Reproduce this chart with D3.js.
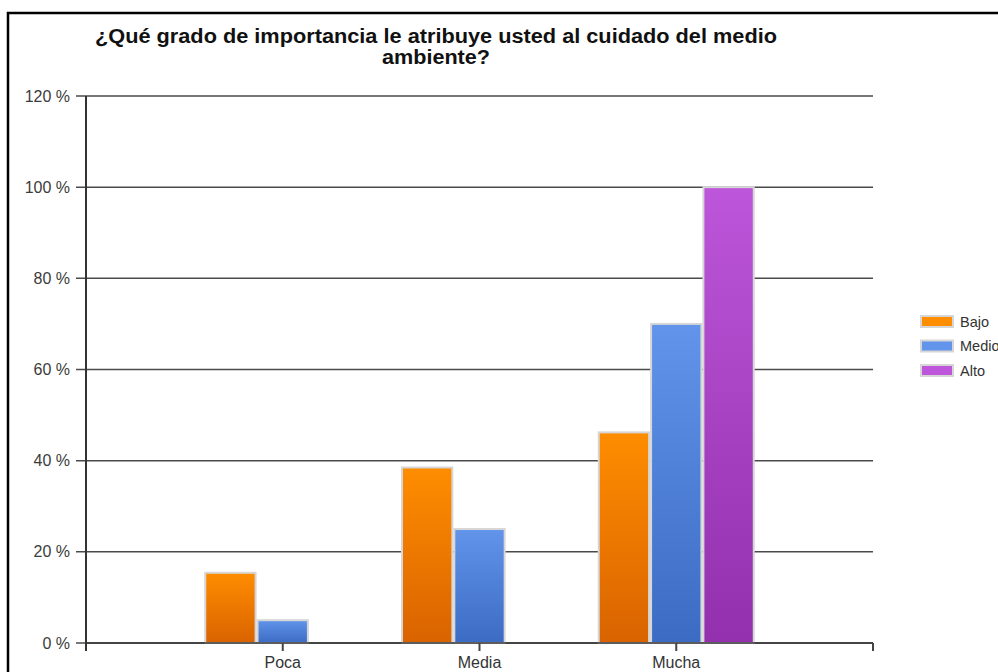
<!DOCTYPE html>
<html>
<head>
<meta charset="utf-8">
<script src="https://cdn.jsdelivr.net/npm/d3@7/dist/d3.min.js"></script>
<style>
  html, body { margin: 0; padding: 0; background: #fff; }
  svg { display: block; }
  text { font-family: "Liberation Sans", Arial, sans-serif; }
</style>
</head>
<body>
<svg id="chart" width="998" height="672"></svg>
<script>
// Encuesta: importancia atribuida al cuidado del medio ambiente
const categories = ["Poca", "Media", "Mucha"];
const seriesNames = ["Bajo", "Medio", "Alto"];
const bajo  = [15.4, 38.5, 46.2];
const medio = [5, 25, 70];
const alto  = [0, 0, 100];
const yTicks = [0, 20, 40, 60, 80, 100, 120];
const titleLines = ["¿Qué grado de importancia le atribuye usted al cuidado del medio", "ambiente?"];

const seriesValues = [bajo, medio, alto];
const colors = {
  Bajo:  ["#ff8d00", "#d96300"],
  Medio: ["#6194ea", "#3c6bc3"],
  Alto:  ["#bd56da", "#9230ad"]
};

const svg = d3.select("#chart");
const plotLeft = 86, plotRight = 873, plotTop = 96, plotBottom = 643;

// Frame around the chart
svg.append("rect").attr("x", 8).attr("y", 13).attr("width", 1100).attr("height", 800)
  .attr("fill", "none").attr("stroke", "#000").attr("stroke-width", 2.5);

// Gradients for bars
const defs = svg.append("defs");
seriesNames.forEach(name => {
  const g = defs.append("linearGradient").attr("id", "grad-" + name)
    .attr("x1", 0).attr("y1", 0).attr("x2", 0).attr("y2", 1);
  g.append("stop").attr("offset", "0%").attr("stop-color", colors[name][0]);
  g.append("stop").attr("offset", "100%").attr("stop-color", colors[name][1]);
});

// Scales
const x = d3.scalePoint().domain(["", ...categories, " "]).range([plotLeft, plotRight]);
const y = d3.scaleLinear().domain([0, 120]).range([plotBottom, plotTop]);
const groupW = 157;
const x1 = d3.scaleBand().domain(seriesNames).range([-groupW / 2, groupW / 2]);

// Title (two lines, narrow bold)
const title = svg.append("text").attr("text-anchor", "middle").attr("font-weight", "bold")
  .attr("font-size", 20).attr("fill", "#111");
title.append("tspan").attr("x", 436).attr("y", 43).text(titleLines[0])
  .attr("textLength", 682).attr("lengthAdjust", "spacingAndGlyphs");
title.append("tspan").attr("x", 436).attr("y", 64).text(titleLines[1])
  .attr("textLength", 108).attr("lengthAdjust", "spacingAndGlyphs");

// Horizontal gridlines with tick marks
svg.append("g").selectAll("line").data(yTicks).join("line")
  .attr("x1", plotLeft - 10).attr("x2", plotRight)
  .attr("y1", d => y(d)).attr("y2", d => y(d))
  .attr("stroke", "#4a4a4a").attr("stroke-width", 1.5);

// Y axis labels
svg.append("g").selectAll("text").data(yTicks).join("text")
  .attr("x", 70).attr("y", d => y(d) + 5.5)
  .attr("text-anchor", "end").attr("font-size", 16).attr("fill", "#3c3c3c")
  .text(d => d + " %");

// Bars
const bars = [];
categories.forEach((c, i) => {
  seriesNames.forEach((s, j) => {
    const v = seriesValues[j][i];
    if (v > 0) bars.push({ c, s, v });
  });
});
svg.append("g").selectAll("rect").data(bars).join("rect")
  .attr("x", d => x(d.c) + x1(d.s) + 1)
  .attr("width", x1.bandwidth() - 2)
  .attr("y", d => y(d.v))
  .attr("height", d => y(0) - y(d.v))
  .attr("fill", d => "url(#grad-" + d.s + ")")
  .attr("stroke", "#d6d6d6").attr("stroke-width", 2);

// Axis lines
svg.append("line").attr("x1", plotLeft).attr("x2", plotLeft).attr("y1", plotTop).attr("y2", plotBottom + 8)
  .attr("stroke", "#333").attr("stroke-width", 2);
svg.append("line").attr("x1", plotLeft).attr("x2", plotRight).attr("y1", plotBottom).attr("y2", plotBottom)
  .attr("stroke", "#333").attr("stroke-width", 1.5);

// X ticks and labels
svg.append("g").selectAll("line").data([...categories, " "]).join("line")
  .attr("x1", d => x(d)).attr("x2", d => x(d))
  .attr("y1", plotBottom).attr("y2", plotBottom + 8)
  .attr("stroke", "#444").attr("stroke-width", 2);
svg.append("g").selectAll("text").data(categories).join("text")
  .attr("x", d => x(d)).attr("y", plotBottom + 25)
  .attr("text-anchor", "middle").attr("font-size", 16).attr("fill", "#333")
  .text(d => d);

// Legend
const legend = svg.append("g").attr("transform", "translate(921,316)");
seriesNames.forEach((s, i) => {
  const g = legend.append("g").attr("transform", `translate(0,${i * 24.5})`);
  g.append("rect").attr("x", 0).attr("y", 0).attr("width", 32).attr("height", 11)
    .attr("fill", colors[s][0]).attr("stroke", "#d6d6d6").attr("stroke-width", 2);
  g.append("text").attr("x", 39).attr("y", 10.5).attr("font-size", 14.5).attr("fill", "#333").text(s);
});
</script>
</body>
</html>
